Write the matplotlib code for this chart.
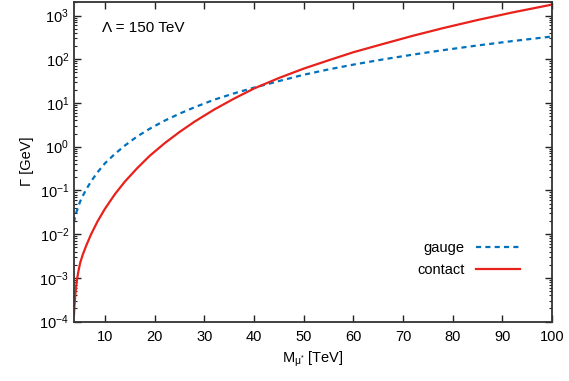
import numpy as np
import matplotlib.pyplot as plt
from matplotlib.ticker import LogLocator, NullFormatter

plt.rcParams['font.family'] = ['Liberation Sans', 'DejaVu Sans']
plt.rcParams['mathtext.fontset'] = 'custom'
plt.rcParams['mathtext.rm'] = 'Liberation Sans'
plt.rcParams['mathtext.it'] = 'Liberation Sans:italic'

# values (M in TeV), widths given as log10(Gamma / GeV)
m_contact = [3.76, 3.85, 3.95, 4.1, 4.3, 4.6, 5.0, 5.5, 6.2, 7.2, 8.5, 10,
             12, 14, 16.5, 19, 22, 25, 28, 32, 36, 40, 45, 50, 55, 60, 66,
             72, 78, 85, 92, 100]
log_contact = [-3.85, -3.66, -3.50, -3.30, -3.10, -2.88, -2.66, -2.48,
               -2.27, -2.005, -1.71, -1.42, -1.086, -0.80, -0.49, -0.21,
               0.078, 0.335, 0.57, 0.85, 1.10, 1.33, 1.57, 1.785, 1.975,
               2.16, 2.35, 2.537, 2.71, 2.897, 3.069, 3.25]

m_gauge = [3.76, 4.0, 4.3, 4.6, 5.0, 5.5, 6.2, 7.2, 8.5, 10, 12, 14, 16.5,
           19, 22, 25, 28, 32, 36, 40, 45, 50, 55, 60, 66, 72, 78, 85, 92,
           100]
log_gauge = [-1.73, -1.60, -1.48, -1.38, -1.253, -1.133, -0.982, -0.794,
             -0.585, -0.38, -0.165, 0.025, 0.235, 0.41, 0.595, 0.755, 0.90,
             1.075, 1.22, 1.35, 1.50, 1.645, 1.767, 1.877, 1.997, 2.106,
             2.207, 2.315, 2.415, 2.52]

gamma_contact = 10 ** np.array(log_contact)
gamma_gauge = 10 ** np.array(log_gauge)

fig = plt.figure(figsize=(5.69, 3.81), dpi=100)
ax = fig.add_axes([0.130, 0.156, 0.840, 0.839])

ax.plot(m_gauge, gamma_gauge, color='#0072bd', lw=1.6, dashes=(2.3, 1.9),
        label='gauge')
ax.plot(m_contact, gamma_contact, color='#e8211b', lw=1.6, label='contact')

ax.set_yscale('log')
ax.set_xlim(3.76, 100)
ax.set_ylim(1e-4, 2.05e3)
ax.set_xticks(np.arange(10, 101, 10))
ax.yaxis.set_major_locator(LogLocator(base=10, numticks=20))
ax.yaxis.set_minor_locator(LogLocator(base=10, subs=np.arange(2, 10), numticks=20))
ax.yaxis.set_minor_formatter(NullFormatter())

ax.tick_params(which='both', direction='in', top=True, right=True,
               labelsize=10.5, colors='#222222', labelcolor='black')
ax.tick_params(which='major', length=5, width=1)
ax.tick_params(which='minor', length=2.5, width=0.8)
ax.tick_params(axis='x', pad=6)
for s in ax.spines.values():
    s.set_linewidth(1.3)
    s.set_color('#333333')

ax.set_xlabel(r'M$_{\mathrm{μ}^{*}}$ [TeV]', fontsize=10.5, labelpad=4)
ax.set_ylabel('Γ [GeV]', fontsize=10.5, labelpad=4)
ax.text(0.058, 0.918, 'Λ = 150 TeV', transform=ax.transAxes,
        fontsize=11, va='center', ha='left')

ax.legend(loc='lower right', bbox_to_anchor=(0.96, 0.098), frameon=False,
          markerfirst=False, fontsize=10.5, handlelength=3.0,
          handletextpad=0.8, labelspacing=0.55)

fig.savefig('out.png', dpi=100)
